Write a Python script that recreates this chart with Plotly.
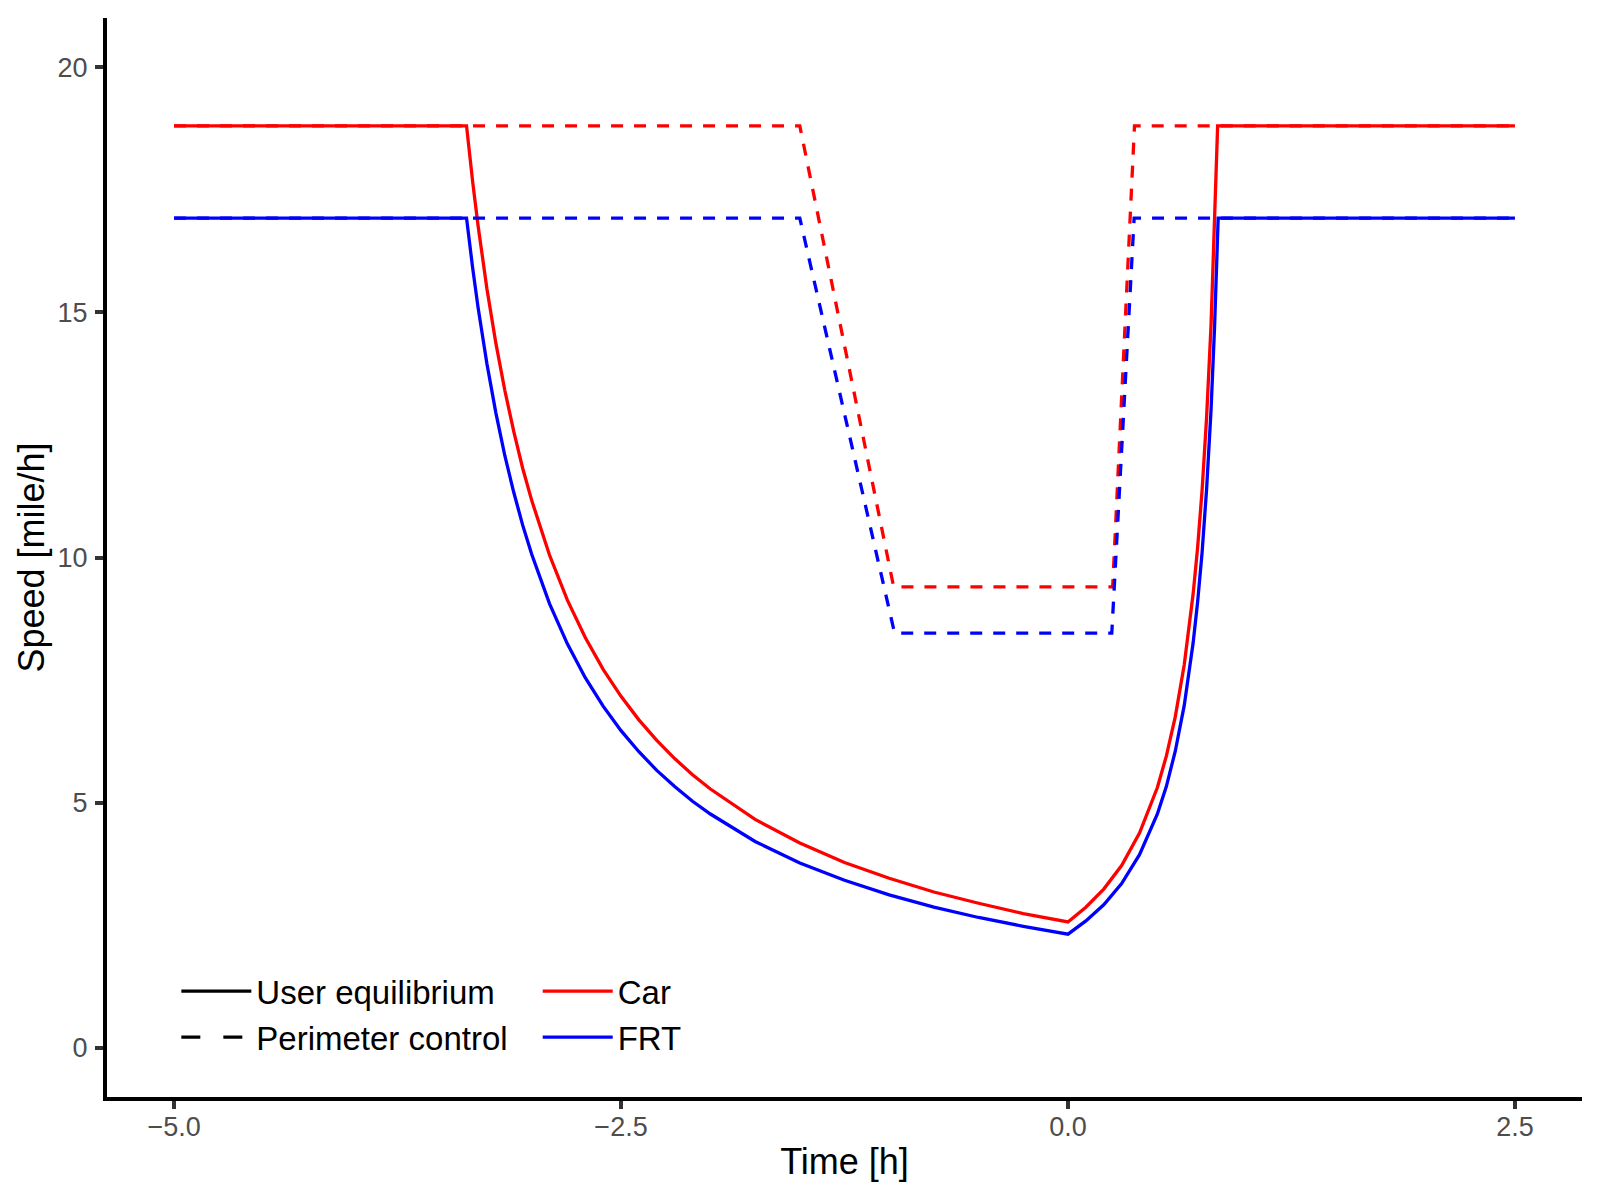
import plotly.graph_objects as go

# time [h] and speed [mile/h], user equilibrium (solid)
car_ue_time = [-5.0, -3.364, -3.33, -3.3, -3.25, -3.2, -3.15, -3.1, -3.05, -3.0,
               -2.9, -2.8, -2.7, -2.6, -2.5, -2.4, -2.3, -2.2, -2.1, -2.0,
               -1.75, -1.5, -1.25, -1.0, -0.75, -0.5, -0.25, 0.0,
               0.1, 0.2, 0.3, 0.4, 0.5, 0.55, 0.6, 0.65, 0.7, 0.725, 0.75,
               0.775, 0.8, 0.82, 0.837, 2.5]
car_ue_speed = [18.8, 18.8, 17.67, 16.78, 15.48, 14.37, 13.41, 12.57, 11.82, 11.17,
                10.05, 9.13, 8.37, 7.72, 7.17, 6.69, 6.27, 5.90, 5.57, 5.28,
                4.66, 4.18, 3.78, 3.46, 3.18, 2.95, 2.74, 2.57,
                2.87, 3.24, 3.72, 4.38, 5.31, 5.95, 6.75, 7.81, 9.26, 10.20, 11.37,
                12.84, 14.73, 16.69, 18.8, 18.8]

frt_ue_time = [-5.0, -3.364, -3.33, -3.3, -3.25, -3.2, -3.15, -3.1, -3.05, -3.0,
               -2.9, -2.8, -2.7, -2.6, -2.5, -2.4, -2.3, -2.2, -2.1, -2.0,
               -1.75, -1.5, -1.25, -1.0, -0.75, -0.5, -0.25, 0.0,
               0.1, 0.2, 0.3, 0.4, 0.5, 0.55, 0.6, 0.65, 0.7, 0.725, 0.75,
               0.775, 0.8, 0.82, 0.84, 2.5]
frt_ue_speed = [16.92, 16.92, 15.91, 15.11, 13.95, 12.95, 12.08, 11.33, 10.66, 10.07,
                9.06, 8.24, 7.55, 6.97, 6.47, 6.04, 5.66, 5.33, 5.03, 4.77,
                4.21, 3.77, 3.42, 3.12, 2.87, 2.66, 2.48, 2.32,
                2.59, 2.92, 3.35, 3.94, 4.77, 5.33, 6.05, 6.98, 8.26, 9.09, 10.10,
                11.38, 13.0, 14.71, 16.92, 16.92]

# perimeter control (dashed)
car_pc_time = [-5.0, -1.5, -0.975, 0.25, 0.372, 2.5]
car_pc_speed = [18.8, 18.8, 9.4, 9.4, 18.8, 18.8]
frt_pc_time = [-5.0, -1.5, -0.97, 0.245, 0.37, 2.5]
frt_pc_speed = [16.92, 16.92, 8.46, 8.46, 16.92, 16.92]

x_ticks = [-5.0, -2.5, 0.0, 2.5]
x_tick_labels = ['\u22125.0', '\u22122.5', '0.0', '2.5']
y_ticks = [0, 5, 10, 15, 20]

FONT = 'Liberation Sans, Arial, Helvetica, sans-serif'
RED = '#FF0000'
BLUE = '#0000FF'


def add_line(fig, x, y, color, dash):
    fig.add_trace(go.Scatter(x=x, y=y, mode='lines', showlegend=False,
                             line=dict(color=color, width=3.3, dash=dash)))


def add_key(fig, name, color, dash, legend):
    fig.add_trace(go.Scatter(x=[None], y=[None], mode='lines', name=name,
                             legend=legend,
                             line=dict(color=color, width=3.3, dash=dash)))


if __name__ == '__main__':
    fig = go.Figure()
    dash = '12px,11px'

    add_line(fig, car_ue_time, car_ue_speed, RED, 'solid')
    add_line(fig, frt_ue_time, frt_ue_speed, BLUE, 'solid')
    add_line(fig, car_pc_time, car_pc_speed, RED, dash)
    add_line(fig, frt_pc_time, frt_pc_speed, BLUE, dash)

    add_key(fig, 'User equilibrium', 'black', 'solid', 'legend')
    add_key(fig, 'Perimeter control', 'black', '19px,23px', 'legend')
    add_key(fig, 'Car', RED, 'solid', 'legend2')
    add_key(fig, 'FRT', BLUE, 'solid', 'legend2')

    axis_common = dict(showgrid=False, zeroline=False, showline=True,
                       linecolor='black', linewidth=4, ticks='outside',
                       ticklen=8, tickwidth=4, tickcolor='#333333',
                       tickfont=dict(family=FONT, size=27, color='#4D4D4D'))

    legend_common = dict(font=dict(family=FONT, size=33, color='black'),
                         bgcolor='rgba(0,0,0,0)', yanchor='top', y=0.124,
                         xanchor='left', tracegroupgap=0, itemwidth=70)

    fig.update_layout(
        width=1600, height=1200,
        margin=dict(l=99, r=26, t=10, b=111),
        plot_bgcolor='white', paper_bgcolor='white',
        font=dict(family=FONT, color='black'),
        xaxis=dict(range=[-5.375, 2.875], tickvals=x_ticks,
                   ticktext=x_tick_labels, ticklabelstandoff=-5,
                   title=dict(text='Time [h]', font=dict(size=36), standoff=8),
                   **axis_common),
        yaxis=dict(range=[-1, 21], tickvals=y_ticks, ticklabelstandoff=2,
                   title=dict(text='Speed [mile/h]', font=dict(size=36), standoff=3),
                   **axis_common),
        legend=dict(x=0.047, **legend_common),
        legend2=dict(x=0.292, **legend_common),
    )

    fig.write_html('out.html')
